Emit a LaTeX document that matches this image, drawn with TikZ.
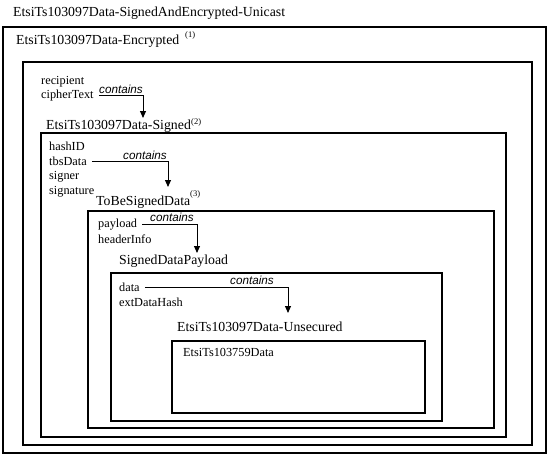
\documentclass[tikz,border=0pt]{standalone}
\usepackage{fontspec}
\setmainfont{Liberation Serif}
\newfontfamily\notefont{Liberation Sans}
\usepackage{tikz}
\usetikzlibrary{arrows.meta}
\tikzset{
	box/.style      ={draw=black, line width=2.3pt},
	boxlabel/.style ={anchor=base west, inner sep=0pt, font=\fontsize{13.8}{16}\selectfont},
	field/.style    ={anchor=base west, inner sep=0pt, font=\fontsize{12.3}{14}\selectfont},
	note/.style     ={anchor=base west, inner sep=0pt, font=\notefont\itshape\fontsize{11.7}{13}\selectfont},
	supnum/.style   ={anchor=base west, inner sep=0pt, font=\fontsize{8.5}{9}\selectfont},
	contains/.style ={-{Triangle[length=7pt, width=6pt]}, line width=1pt, shorten <=5pt},
}

\begin{document}
\begin{tikzpicture}[x=1pt, y=-1pt]
	\useasboundingbox (0,0) rectangle (550,458);
	\node[boxlabel] (unicast) at (13,16) {EtsiTs103097Data-SignedAndEncrypted-Unicast};
	% nested boxes
	\draw[box] (3,27) rectangle (546,453);
	\draw[box] (23,62) rectangle (532,445);
	\draw[box] (41,133) rectangle (506,437);
	\draw[box] (88,211) rectangle (494,428);
	\draw[box] (111,273) rectangle (442,421);
	\draw[box] (172,341) rectangle (425,413);
	% encrypted
	\node[boxlabel] (encrypted) at (16,44) {EtsiTs103097Data-Encrypted};
	\node[supnum] (sup1) at (185,37) {(1)};
	\node[field] (recipient) at (41,84) {recipient};
	\node[field] (cipher) at (41,98) {cipherText};
	\coordinate (tip1) at (143,118);
	\draw[contains] (cipher.east) -| (tip1);
	\node[note] (note1) at (99,93) {contains};
	% signed
	\node[boxlabel] (signed) at (46,129) {EtsiTs103097Data-Signed};
	\node[supnum] (sup2) at (191,124) {(2)};
	\node[field] (hashid) at (49,150) {hashID};
	\node[field] (tbsdata) at (49,165.5) {tbsData};
	\node[field] (signer) at (49,179.5) {signer};
	\node[field] (signature) at (49,194) {signature};
	\coordinate (tip2) at (168,187);
	\draw[contains] (tbsdata.east) -| (tip2);
	\node[note] (note2) at (123,159) {contains};
	% to be signed
	\node[boxlabel] (tbs) at (96,205) {ToBeSignedData};
	\node[supnum] (sup3) at (190,196) {(3)};
	\node[field] (payload) at (98,227.7) {payload};
	\node[field] (header) at (98,243) {headerInfo};
	\coordinate (tip3) at (197,253);
	\draw[contains] (payload.east) -| (tip3);
	\node[note] (note3) at (150,221) {contains};
	% payload
	\node[boxlabel] (sdp) at (119,264) {SignedDataPayload};
	\node[field] (data) at (119,291.7) {data};
	\node[field] (exthash) at (119,306) {extDataHash};
	\coordinate (tip4) at (288,313);
	\draw[contains] (data.east) -| (tip4);
	\node[note] (note4) at (230,284.5) {contains};
	% unsecured
	\node[boxlabel] (unsecured) at (177,331) {EtsiTs103097Data-Unsecured};
	\node[field] (its) at (183,356) {EtsiTs103759Data};
\end{tikzpicture}
\end{document}
